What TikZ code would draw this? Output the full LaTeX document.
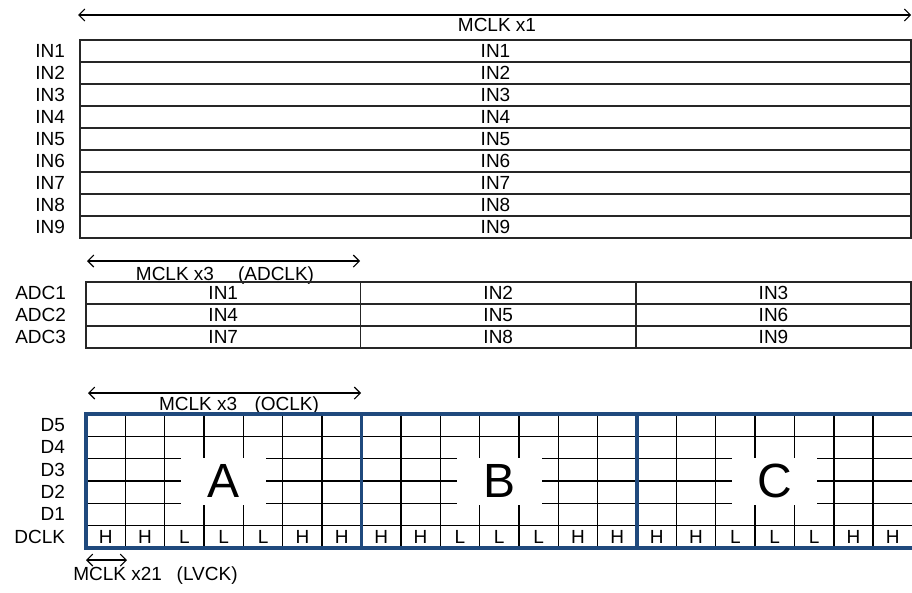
\documentclass[tikz,border=0pt]{standalone}
\usepackage{fontspec}
\setmainfont{Liberation Sans}
\usetikzlibrary{arrows.meta}
\definecolor{gridblue}{RGB}{31,73,125}
\begin{document}
\begin{tikzpicture}[x=0.75pt,y=-0.75pt,
  every node/.style={font=\fontsize{14.25}{16}\selectfont, inner sep=0pt, outer sep=0pt},
  lbl/.style={anchor=east},
  rowbox/.style={draw=black!85, line width=1pt, minimum height=16.5pt, anchor=north west},
  dimarrow/.style={line width=0.8pt, {Straight Barb[length=4.5pt,width=9pt]}-{Straight Barb[length=4.5pt,width=9pt]}},
  cell/.style={draw=black, line width=1.05pt, minimum width=29.52pt, minimum height=16.75pt, anchor=north west},
  blk/.style={draw=gridblue, line width=2.5pt},
  letterbox/.style={fill=white, minimum width=63.75pt, minimum height=35.25pt, font=\fontsize{36}{40}\selectfont}
]
\useasboundingbox (0,0) rectangle (912,592);

% ---- top section: IN1..IN9 ----
\coordinate (t1) at (78,15);
\coordinate (t2) at (911,15);
\draw[dimarrow] (t1) -- (t2);
\node[anchor=base] (mx1) at (497,31.5) {MCLK x1};
\foreach \i in {1,...,9}{
  \node[rowbox, minimum width=623.25pt] (in\i) at (80,{40+22*(\i-1)}) {IN\i};
  \node[lbl] (lin\i) at (65,{51+22*(\i-1)}) {IN\i};
}

% ---- ADC section ----
\coordinate (a1) at (87,261);
\coordinate (a2) at (360,261);
\draw[dimarrow] (a1) -- (a2);
\node[anchor=base] (mx3a) at (225,280) {MCLK x3\hspace{18pt}(ADCLK)};
\foreach \r/\a/\b/\c in {0/1/2/3,1/4/5/6,2/7/8/9}{
  \node[rowbox, minimum width=205.875pt] (adcA\r) at (86,{282+22*\r}) {IN\a};
  \node[rowbox, minimum width=206.625pt] (adcB\r) at (360.5,{282+22*\r}) {IN\b};
  \node[rowbox, minimum width=206.25pt] (adcC\r) at (636,{282+22*\r}) {IN\c};
}
\node[lbl] (ladc1) at (66,293) {ADC1};
\node[lbl] (ladc2) at (66,315) {ADC2};
\node[lbl] (ladc3) at (66,337) {ADC3};

% ---- D section ----
\coordinate (o1) at (88,393);
\coordinate (o2) at (361,393);
\draw[dimarrow] (o1) -- (o2);
\node[anchor=base] (mx3o) at (239,410) {MCLK x3\hspace{13pt}(OCLK)};

\foreach \b in {0,1,2}{
  \foreach \c in {0,...,6}{
    \foreach \r in {0,...,4}{
      \node[cell] (g\b\c\r) at ({86+275.5*\b+39.357*\c},{414+22.333*\r}) {};
    }
  }
  \foreach \c/\v in {0/H,1/H,2/L,3/L,4/L,5/H,6/H}{
    \node[cell] (g\b\c5) at ({86+275.5*\b+39.357*\c},{414+22.333*5}) {};
    \node (v\b\c) at (g\b\c5.center) {\v};
  }
}
\node[letterbox] (A) at (223.75,481) {A};
\node[letterbox] (B) at (499.25,481) {B};
\node[letterbox] (C) at (774.75,481) {C};
\draw[blk] (86,414) rectangle (361.5,548);
\draw[blk] (361.5,414) rectangle (637,548);
\draw[blk] (637,414) rectangle (916,548);

\node[lbl] (ld5) at (65,425) {D5};
\node[lbl] (ld4) at (65,447.3) {D4};
\node[lbl] (ld3) at (65,469.7) {D3};
\node[lbl] (ld2) at (65,492) {D2};
\node[lbl] (ld1) at (65,514.3) {D1};
\node[lbl] (ldclk) at (65,536.7) {DCLK};

\coordinate (l1) at (86,560);
\coordinate (l2) at (127,560);
\draw[dimarrow] (l1) -- (l2);
\node[anchor=base] (mx21) at (155.5,580.5) {MCLK x21\hspace{11pt}(LVCK)};
\end{tikzpicture}
\end{document}
